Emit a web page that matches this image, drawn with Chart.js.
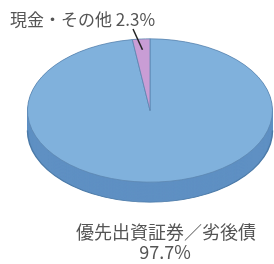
<!DOCTYPE html>
<html>
<head>
<meta charset="utf-8">
<script src="https://cdn.jsdelivr.net/npm/chart.js@4/dist/chart.umd.min.js"></script>
<style>
  html, body { margin: 0; padding: 0; background: #fff; }
  #wrap { width: 274px; height: 264px; }
</style>
</head>
<body>
<div id="wrap"><canvas id="pie" width="274" height="264"></canvas></div>
<script>
// data
const labels = ['優先出資証券／劣後債', '現金・その他'];
const values = [97.7, 2.3];
const faceColors = ['#80b1dc', '#c99dd5'];
const sideColors = ['#5f90c3', '#9a6fa8'];

const FONT = '"Noto Sans CJK JP", "Noto Sans", sans-serif';
const TILT = 0.585;   // vertical squash of the disc
const DEPTH = 20;     // side height in px
const CY = 110.5;     // screen y of pie centre

// squash the pie into an ellipse and give it a side
const tilt = {
  id: 'tilt',
  beforeDatasetsDraw(chart) {
    const ctx = chart.ctx;
    const arcs = chart.getDatasetMeta(0).data;
    const cx = arcs[0].x, cy = arcs[0].y;
    ctx.save();
    ctx.translate(cx, CY);
    ctx.scale(1, TILT);
    ctx.translate(-cx, -cy);
    const d = DEPTH / TILT;
    for (let s = d; s > 0; s -= 1) {
      arcs.forEach((a, i) => {
        ctx.beginPath();
        ctx.moveTo(a.x, a.y + s);
        ctx.arc(a.x, a.y + s, a.outerRadius, a.startAngle, a.endAngle);
        ctx.closePath();
        ctx.fillStyle = sideColors[i];
        ctx.fill();
      });
    }
    // outline of the bottom rim
    const a = arcs[0];
    ctx.beginPath();
    ctx.arc(a.x, a.y + d, a.outerRadius, 0, Math.PI);
    ctx.strokeStyle = '#4b7aa8';
    ctx.lineWidth = 1.5;
    ctx.stroke();
  },
  afterDatasetsDraw(chart) {
    chart.ctx.restore();
  }
};

// labels with leader line
const pieLabels = {
  id: 'pieLabels',
  afterDraw(chart) {
    const ctx = chart.ctx;
    const arcs = chart.getDatasetMeta(0).data;
    const p = arcs[1];
    const mid = (p.startAngle + p.endAngle) / 2;
    const px = p.x + Math.cos(mid) * p.outerRadius * 0.85;
    const py = CY + Math.sin(mid) * p.outerRadius * 0.85 * TILT;
    ctx.save();
    ctx.strokeStyle = '#222';
    ctx.lineWidth = 1.5;
    ctx.beginPath();
    ctx.moveTo(133, 29);
    ctx.lineTo(px, py);
    ctx.stroke();

    ctx.fillStyle = '#555';
    ctx.textBaseline = 'middle';
    ctx.font = '17px ' + FONT;
    ctx.textAlign = 'left';
    ctx.fillText(labels[1] + ' ' + values[1] + '%', 10, 20);

    ctx.textAlign = 'center';
    ctx.font = '18px ' + FONT;
    ctx.fillText(labels[0], 166, 232);
    ctx.fillText(values[0] + '%', 165, 252);
    ctx.restore();
  }
};

new Chart(document.getElementById('pie').getContext('2d'), {
  type: 'pie',
  data: {
    labels: labels,
    datasets: [{
      data: values,
      backgroundColor: faceColors,
      borderColor: '#5d86b0',
      borderWidth: 1,
      hoverOffset: 0
    }]
  },
  options: {
    responsive: false,
    animation: false,
    events: [],
    layout: { padding: { left: 27, right: 1, top: 0, bottom: 18 } },
    plugins: {
      legend: { display: false },
      tooltip: { enabled: false }
    }
  },
  plugins: [tilt, pieLabels]
});
</script>
</body>
</html>
